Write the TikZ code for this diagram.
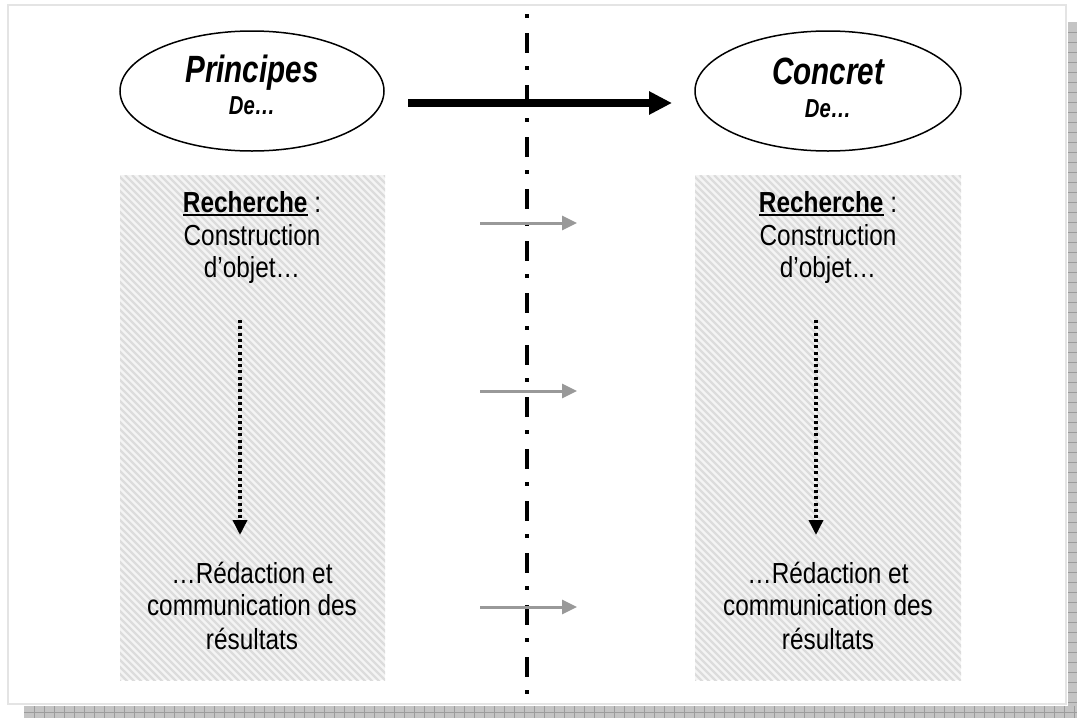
\documentclass[tikz,border=0pt]{standalone}
\usepackage{fontspec}
\setmainfont{Liberation Sans}
\newfontfamily\bodyfont[FakeStretch=0.84]{Liberation Sans}
\newfontfamily\titlefont[FakeStretch=0.78]{Liberation Sans}
\usetikzlibrary{arrows.meta,shapes.geometric}
\definecolor{framegray}{HTML}{E4E4E4}
\definecolor{shadowgray}{HTML}{C4C4C4}
\definecolor{shadowline}{HTML}{9C9C9C}
\definecolor{hatchbg}{HTML}{F4F4F4}
\definecolor{hatchline}{HTML}{DCDCDC}
\definecolor{arrowgray}{HTML}{999999}
\newcommand\ulbold[1]{\setbox0\hbox{#1}\rlap{\rule[-3.5pt]{\wd0}{2pt}}\box0}
\tikzset{
  bubble/.style={ellipse, draw=black, line width=1.5pt, fill=white, inner sep=0pt, minimum height=120pt},
  hatchbox/.style={rectangle, inner sep=0pt, fill=hatchbg, minimum height=505pt,
    path picture={
      \foreach \a in {-520,-513,...,280}
        \draw[hatchline, line width=2.3pt] ([xshift=\a pt]path picture bounding box.north west) -- ++(540pt,-540pt);
    }},
  title/.style={anchor=base, font=\titlefont\fontsize{38}{40}\selectfont\bfseries\itshape},
  subtitle/.style={anchor=base, font=\titlefont\fontsize{26}{28}\selectfont\bfseries\itshape},
  body/.style={anchor=base, font=\bodyfont\fontsize{29}{33}\selectfont},
  mainarrow/.style={line width=8pt, -{Triangle[length=23pt,width=22pt]}},
  grayarrow/.style={arrowgray, line width=3pt, -{Triangle[length=15pt,width=14pt]}},
  dotarrow/.style={line width=3.5pt, dash pattern=on 3pt off 3.3pt, -{Triangle[length=15pt,width=14pt]}},
  axisline/.style={line width=4pt, dash pattern=on 4pt off 15pt on 20pt off 13pt}
}
\begin{document}
\begin{tikzpicture}[x=1pt,y=-1pt]
\useasboundingbox (0,0) rectangle (1077,718);
% shadow
\fill[shadowgray] (24,706) rectangle (1077,718);
\fill[shadowgray] (1068,22) rectangle (1077,718);
\foreach \x in {34,44,...,1074} \draw[shadowline, line width=0.7pt] (\x,706) -- (\x,718);
\draw[shadowline, line width=0.7pt] (24,712) -- (1077,712);
\foreach \y in {32,42,...,702} \draw[shadowline, line width=0.7pt] (1068,\y) -- (1077,\y);
% frame
\draw[framegray, line width=2pt, fill=white] (8,5) rectangle (1066,704);
% boxes
\node[hatchbox, minimum width=265pt] (LB) at (252.5,427.5) {};
\node[hatchbox, minimum width=266pt] (RB) at (828,427.5) {};
% ellipses
\node[bubble, minimum width=264pt] (LE) at (252,91) {};
\node[bubble, minimum width=266pt] (RE) at (828,91) {};
\node[title] (LT1) at (252,82) {Principes};
\node[subtitle] (LT2) at (252,114) {De…};
\node[title] (RT1) at (828,84) {Concret};
\node[subtitle] (RT2) at (828,117) {De…};
% axis line
\coordinate (AxT) at (527,14);
\coordinate (AxB) at (527,695);
\draw[axisline] (AxT) -- (AxB);
% main arrow
\coordinate (MA1) at (408,103);
\coordinate (MA2) at (672,103);
\draw[mainarrow] (MA1) -- (MA2);
% gray arrows
\foreach \y/\n in {223/a,391/b,607/c} {
  \coordinate (G\n1) at (480,\y);
  \coordinate (G\n2) at (577,\y);
  \draw[grayarrow] (G\n1) -- (G\n2);
}
% box texts
\foreach \cx/\s in {252/L,828/R} {
  \node[body] (\s a) at (\cx,212) {\textbf{\ulbold{Recherche}} :};
  \node[body] (\s b) at (\cx,245) {Construction};
  \node[body] (\s c) at (\cx,277) {d’objet…};
  \node[body] (\s d) at (\cx,583) {…Rédaction et};
  \node[body] (\s e) at (\cx,615) {communication des};
  \node[body] (\s f) at (\cx,649) {résultats};
}
% dotted arrows
\coordinate (LD1) at (240,320);
\coordinate (LD2) at (240,535);
\coordinate (RD1) at (816,320);
\coordinate (RD2) at (816,535);
\draw[dotarrow] (LD1) -- (LD2);
\draw[dotarrow] (RD1) -- (RD2);
\end{tikzpicture}
\end{document}
